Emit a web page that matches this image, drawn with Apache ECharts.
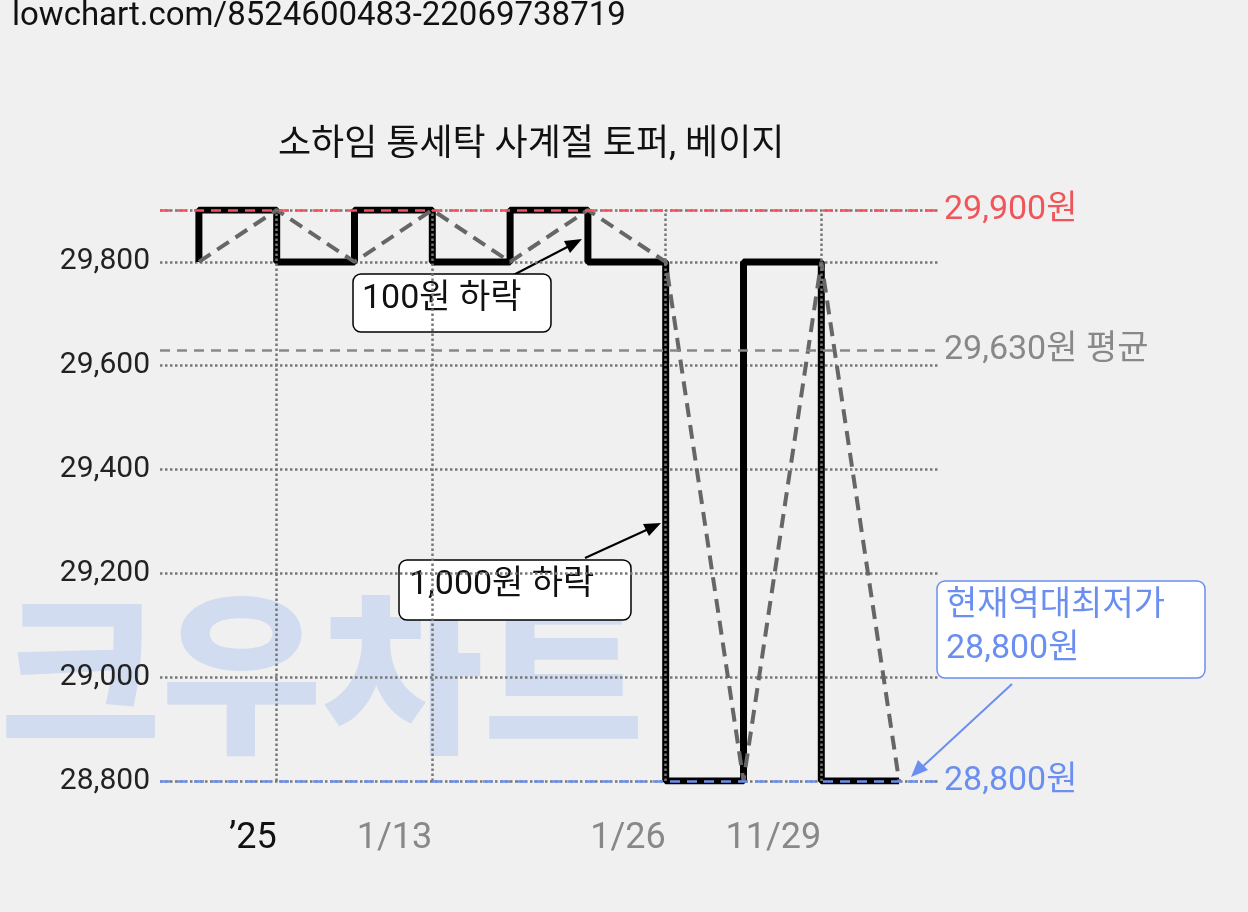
<!DOCTYPE html>
<html><head><meta charset="utf-8">
<script src="https://cdn.jsdelivr.net/npm/echarts@6/dist/echarts.min.js"></script>
<style>html,body{margin:0;background:#f0f0f0}#c{width:1248px;height:912px}</style>
</head><body><div id="c"></div>
<script>
const categories = ['12/30','\u201925','1/6','1/13','1/19','1/20','1/26','1/27','11/29','12/1'];
const prices = [29800,29900,29800,29900,29800,29900,29800,28800,29800,28800];
const shownLabels = {1:'\u201925',3:'1/13',6:'1/26',8:'11/29'};
const maxPrice = 29900, avgPrice = 29630, minPrice = 28800;

const chart = echarts.init(document.getElementById('c'));
const F = 'Roboto, "Noto Sans CJK KR", sans-serif';
chart.setOption({
  backgroundColor:'#f0f0f0',
  animation:false,
  grid:{left:160,right:310,top:210,bottom:131},
  xAxis:{type:'category',data:categories,boundaryGap:true,
    axisLine:{show:false},axisTick:{show:false},
    axisLabel:{interval:0,margin:40,fontSize:36,fontFamily:F,align:'right',
      formatter:(v,i)=>shownLabels[i]||'',
      color:(v,i)=> v==='\u201925'?'#111':'#888'},
    splitLine:{show:false}},
  yAxis:{type:'value',min:28800,max:29900,interval:200,
    axisLine:{show:false},axisTick:{show:false},
    axisLabel:{fontSize:30,color:'#222',fontFamily:F,margin:10,
      formatter:v=>v>29800?'':v.toLocaleString('en-US')},
    splitLine:{lineStyle:{type:'dotted',color:'#777',width:2.5}}},
  series:[
    {type:'line',data:[],z:1,
     markLine:{silent:true,symbol:'none',data:[
       {xAxis:1},{xAxis:3},{xAxis:6},{xAxis:8}],
       lineStyle:{type:'dotted',color:'#777',width:2.5},label:{show:false}}},
    {type:'line',data:prices,step:'start',symbol:'none',lineStyle:{color:'#000',width:7},z:3},
    {type:'line',data:prices,symbol:'none',lineStyle:{color:'#666',width:4,type:[14,8]},z:4,
     markLine:{silent:true,symbol:'none',data:[
       {yAxis:maxPrice,lineStyle:{color:'#f0555a'},label:{formatter:'29,900원',color:'#f0555a'}},
       {yAxis:avgPrice,lineStyle:{color:'#888'},label:{formatter:'29,630원 평균',color:'#888'}},
       {yAxis:minPrice,lineStyle:{color:'#6b8ff0'},label:{formatter:'28,800원',color:'#6b8ff0'}}],
       lineStyle:{type:[10,7],width:2.5},
       label:{position:'end',fontSize:34,fontFamily:F,distance:6}}}
  ],
  graphic:[
    {type:'text',left:12,top:0,style:{text:'lowchart.com/8524600483-22069738719',font:'33px '+F,fill:'#111'}},
    {type:'text',left:278,top:128,style:{text:'소하임 통세탁 사계절 토퍼, 베이지',font:'36px '+F,fill:'#111'}},
    {type:'text',left:0,top:585,z:0,style:{text:'크우차트',font:'900 175px "Noto Sans CJK KR"',fill:'rgba(170,195,240,0.45)'}},
    {type:'line',shape:{x1:500,y1:282,x2:575,y2:243},style:{stroke:'#000',lineWidth:2}},
    {type:'polygon',shape:{points:[[582,239],[564,241],[570,253]]},style:{fill:'#000'}},
    {type:'rect',shape:{x:353,y:274,width:198,height:58,r:8},style:{fill:'#fff',stroke:'#000',lineWidth:1.5}},
    {type:'text',left:362,top:283,style:{text:'100원 하락',font:'34px '+F,fill:'#111'}},
    {type:'line',shape:{x1:585,y1:558,x2:653,y2:527},style:{stroke:'#000',lineWidth:2}},
    {type:'polygon',shape:{points:[[661,523],[643,524],[649,536]]},style:{fill:'#000'}},
    {type:'rect',shape:{x:399,y:560,width:232,height:60,r:8},style:{fill:'#fff',stroke:'#000',lineWidth:1.5}},
    {type:'text',left:409,top:569,style:{text:'1,000원 하락',font:'34px '+F,fill:'#111'}},
    {type:'line',shape:{x1:1012,y1:684,x2:920,y2:769},style:{stroke:'#6b8ff0',lineWidth:2}},
    {type:'polygon',shape:{points:[[911,777],[918,760],[928,770]]},style:{fill:'#6b8ff0'}},
    {type:'rect',shape:{x:937,y:581,width:268,height:97,r:8},style:{fill:'#fff',stroke:'#6b8ff0',lineWidth:1.5}},
    {type:'text',left:946,top:585,style:{text:'현재역대최저가\n28,800원',font:'34px '+F,fill:'#6b8ff0',lineHeight:43}}
  ]
});
</script></body></html>
